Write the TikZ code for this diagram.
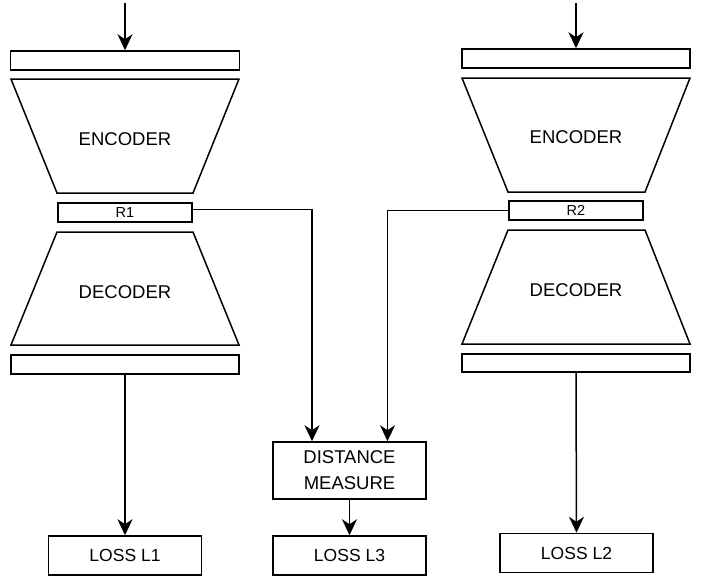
\documentclass[tikz,border=0pt]{standalone}
\usepackage{fontspec}
\setmainfont{Liberation Sans}
\usetikzlibrary{arrows.meta}
\begin{document}
\begin{tikzpicture}[x=1pt,y=-1pt,
  lw/.style={line width=1.5pt},
  box/.style={draw, lw, inner sep=0pt, minimum height=19pt},
  lossbox/.style={draw, lw, inner sep=0pt, minimum width=153pt, minimum height=39pt, font=\fontsize{17.5}{20}\selectfont},
  rbox/.style={draw, lw, inner sep=0pt, minimum width=134pt, minimum height=19pt, font=\fontsize{14.5}{16}\selectfont},
  biglabel/.style={font=\fontsize{18.5}{26}\selectfont, inner sep=0pt},
  arr/.style={lw, -{Stealth[length=16pt,width=15pt,inset=5pt]}},
  conn/.style={lw}
]
\useasboundingbox (0,0) rectangle (713,576);

% ---------- left column ----------
\coordinate (top1) at (125,3);
\node[box, minimum width=229pt] (in1) at (125,60.5) {};
\draw[lw] (11,79) -- (239,79) -- (193,193) -- (57,193) -- cycle;
\node[biglabel] (enc1) at (125,139) {ENCODER};
\node[rbox] (R1) at (125,212.5) {R1};
\draw[lw] (57,232) -- (193,232) -- (239,345) -- (11,345) -- cycle;
\node[biglabel] (dec1) at (125,292) {DECODER};
\node[box, minimum width=228pt] (out1) at (125,364.5) {};
\node[lossbox] (loss1) at (125,555.5) {LOSS L1};

% ---------- right column ----------
\coordinate (top2) at (576,3);
\node[box, minimum width=228pt] (in2) at (576,58.5) {};
\draw[lw] (462,78) -- (690,78) -- (645,192) -- (508,192) -- cycle;
\node[biglabel] (enc2) at (576,137) {ENCODER};
\node[rbox] (R2) at (576,210.5) {R2};
\draw[lw] (508,230) -- (645,230) -- (690,344) -- (462,344) -- cycle;
\node[biglabel] (dec2) at (576,290) {DECODER};
\node[box, minimum width=228pt, minimum height=18pt] (out2) at (576,363) {};
\node[lossbox] (loss2) at (576.5,553) {LOSS L2};

% ---------- middle ----------
\node[draw, lw, inner sep=0pt, minimum width=153pt, minimum height=57pt,
      align=center, font=\fontsize{18.5}{26}\selectfont] (dist) at (349.5,470.5) {DISTANCE\\MEASURE};
\node[lossbox] (loss3) at (349.5,555.5) {LOSS L3};

% ---------- connectors ----------
\draw[arr] (top1) -- (in1.north);
\draw[arr] (top2) -- (in2.north);
\draw[arr] (out1.south) -- (loss1.north);
\draw[arr] (out2.south) -- (loss2.north);
\draw[arr] ([yshift=3pt]R1.east) -| ([xshift=-37.5pt]dist.north);
\draw[arr] (R2.west) -| ([xshift=38pt]dist.north);
\draw[arr] (dist.south) -- (loss3.north);
\end{tikzpicture}
\end{document}
